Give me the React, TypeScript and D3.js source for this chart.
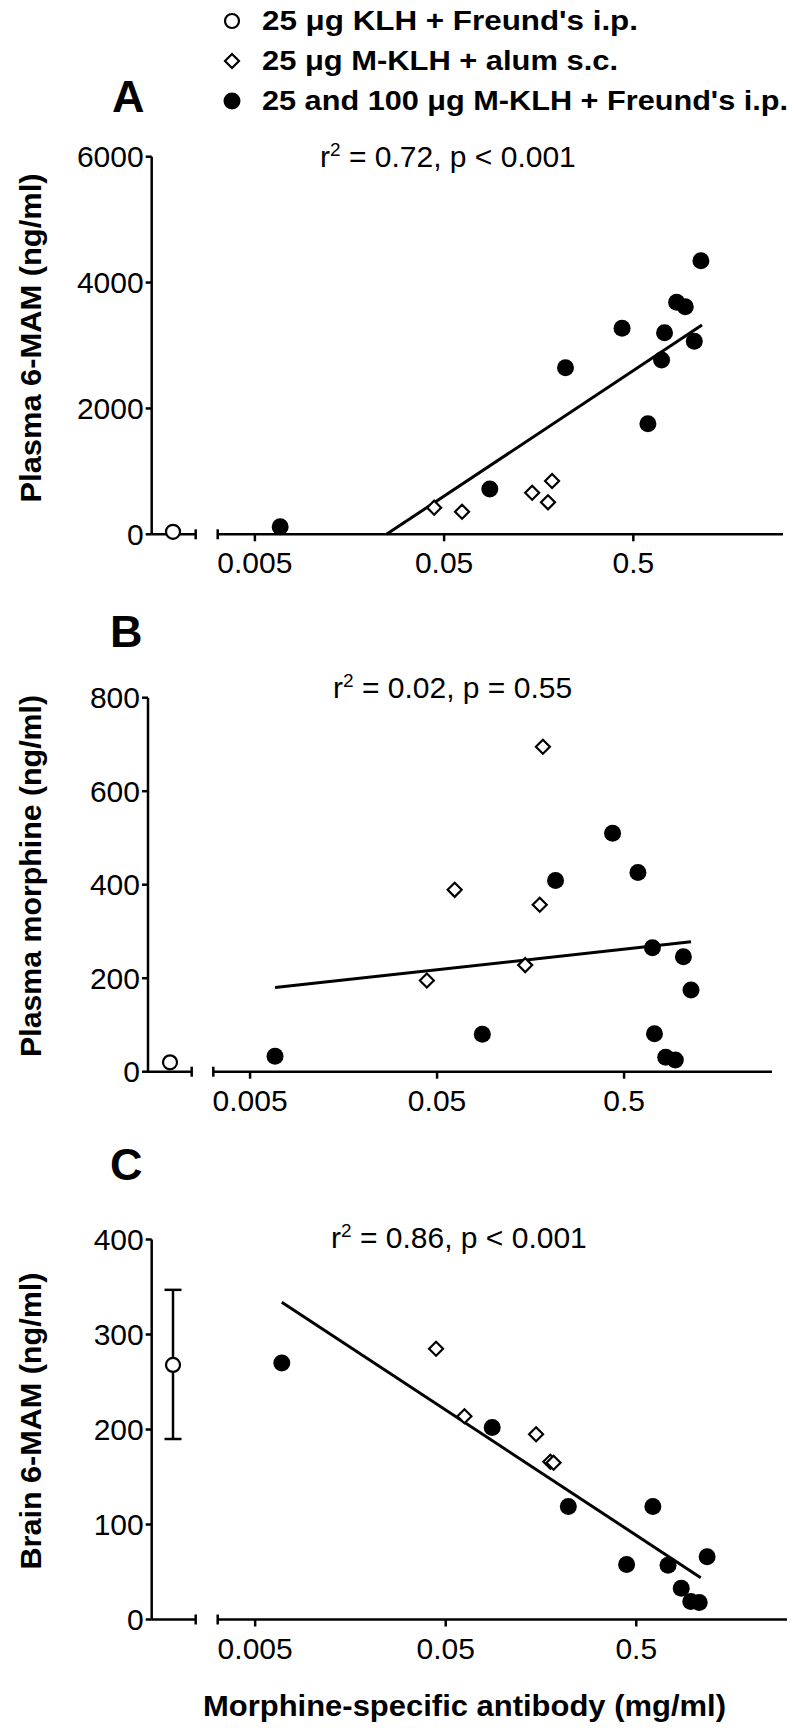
import React from "react";
import * as d3 from "d3";

// ---------- DATA ----------
const xTickValues = [0.005, 0.05, 0.5];
const xTickLabels = ["0.005", "0.05", "0.5"];
const xDomain = [0.00318, 3.09];

const legendLabels = [
  "25 \u03bcg KLH + Freund's i.p.",
  "25 \u03bcg M-KLH + alum s.c.",
  "25 and 100 \u03bcg M-KLH + Freund's i.p.",
];

// Panel A: Plasma 6-MAM
const aYTicks = [0, 2000, 4000, 6000];
const aControl = [40];
const aFilledX = [0.0068, 0.0872, 0.219, 0.436, 0.597, 0.705, 0.731, 0.847, 0.941, 1.05, 1.138];
const aFilledY = [121, 720, 2647, 3273, 1757, 2770, 3204, 3686, 3617, 3067, 4348];
const aDiamondX = [0.0443, 0.0622, 0.146, 0.177, 0.186];
const aDiamondY = [423, 359, 661, 508, 847];
const aFitX = [0.0248, 1.153];
const aFitY = [0, 3326];

// Panel B: Plasma morphine
const bYTicks = [0, 200, 400, 600, 800];
const bControl = [20];
const bFilledX = [0.0068, 0.0873, 0.215, 0.434, 0.593, 0.709, 0.727, 0.835, 0.94, 1.038, 1.14];
const bFilledY = [33, 80, 409, 510, 426, 265, 81, 31, 25, 246, 175];
const bDiamondX = [0.0441, 0.0621, 0.148, 0.177, 0.184];
const bDiamondY = [195, 389, 228, 357, 695];
const bFitX = [0.0068, 1.14];
const bFitY = [180, 278];

// Panel C: Brain 6-MAM
const cYTicks = [0, 100, 200, 300, 400];
const cControl = [268];
const cControlErr = [190, 347];
const cFilledX = [0.0069, 0.0877, 0.22, 0.445, 0.611, 0.734, 0.861, 0.966, 1.07, 1.177];
const cFilledY = [270, 202, 119, 58, 119, 57, 33, 19, 18, 66];
const cDiamondX = [0.0445, 0.0627, 0.149, 0.177, 0.184];
const cDiamondY = [285, 214, 195, 166, 165];
const cFitX = [0.0069, 1.09];
const cFitY = [334, 44];

const panels = [
  {
    letter: "A", yTitle: "Plasma 6-MAM (ng/ml)", stat: ["0.72, p < 0.001"],
    yTicks: aYTicks, yMax: 6000, control: aControl, err: null as number[] | null,
    fx: aFilledX, fy: aFilledY, dx: aDiamondX, dy: aDiamondY, fitX: aFitX, fitY: aFitY,
    geo: { axisX: 151.7, top: 156.7, bottom: 534.3, b1: 195.7, b2: 217.7, end: 783, ctrl: 173,
      letterX: 112, letterY: 112, statX: 320, statY: 167, titleLen: 329, titleY: 338 },
  },
  {
    letter: "B", yTitle: "Plasma morphine (ng/ml)", stat: ["0.02, p = 0.55"],
    yTicks: bYTicks, yMax: 800, control: bControl, err: null as number[] | null,
    fx: bFilledX, fy: bFilledY, dx: bDiamondX, dy: bDiamondY, fitX: bFitX, fitY: bFitY,
    geo: { axisX: 148, top: 697.7, bottom: 1071.7, b1: 191.7, b2: 213.3, end: 772, ctrl: 170,
      letterX: 110, letterY: 647, statX: 333, statY: 698, titleLen: 362, titleY: 876 },
  },
  {
    letter: "C", yTitle: "Brain 6-MAM (ng/ml)", stat: ["0.86, p < 0.001"],
    yTicks: cYTicks, yMax: 400, control: cControl, err: cControlErr,
    fx: cFilledX, fy: cFilledY, dx: cDiamondX, dy: cDiamondY, fitX: cFitX, fitY: cFitY,
    geo: { axisX: 151.7, top: 1239.5, bottom: 1619.5, b1: 195.7, b2: 217.7, end: 787, ctrl: 173,
      letterX: 110, letterY: 1180, statX: 331, statY: 1248, titleLen: 297, titleY: 1421 },
  },
];

const FONT = "'Liberation Sans', Arial, Helvetica, sans-serif";
const SW = 2.5;

function diamondPath(cx: number, cy: number, r: number) {
  return `M${cx},${cy - r}L${cx + r},${cy}L${cx},${cy + r}L${cx - r},${cy}Z`;
}

function Panel({ p }: { p: (typeof panels)[number] }) {
  const g = p.geo;
  const x = d3.scaleLog().domain(xDomain).range([g.b2, g.end]);
  const y = d3.scaleLinear().domain([0, p.yMax]).range([g.bottom, g.top]);
  const line = d3.line<[number, number]>().x((d) => x(d[0])).y((d) => y(d[1]));
  const fitPts: [number, number][] = p.fitX.map((v, i) => [v, p.fitY[i]]);
  return (
    <g>
      <text x={g.letterX} y={g.letterY} fontFamily={FONT} fontWeight="bold" fontSize={45}>{p.letter}</text>
      <text x={g.statX} y={g.statY} fontFamily={FONT} fontSize={30}>
        r<tspan dy={-11} fontSize={19}>2</tspan><tspan dy={11}>{" = " + p.stat[0]}</tspan>
      </text>
      {/* y axis */}
      <line x1={g.axisX} x2={g.axisX} y1={g.top} y2={g.bottom} stroke="#000" strokeWidth={SW} />
      {p.yTicks.map((t) => (
        <g key={t}>
          <line x1={g.axisX - 6} x2={g.axisX} y1={y(t)} y2={y(t)} stroke="#000" strokeWidth={SW} />
          <text x={g.axisX - 8} y={y(t) + 10.5} textAnchor="end" fontFamily={FONT} fontSize={30}>{t}</text>
        </g>
      ))}
      {/* x axis: control segment */}
      <line x1={g.axisX} x2={g.b1} y1={g.bottom} y2={g.bottom} stroke="#000" strokeWidth={SW} />
      <line x1={g.b1} x2={g.b1} y1={g.bottom - 5} y2={g.bottom + 5} stroke="#000" strokeWidth={SW} />
      {/* x axis: log segment */}
      <line x1={g.b2} x2={g.end} y1={g.bottom} y2={g.bottom} stroke="#000" strokeWidth={SW} />
      <line x1={g.b2} x2={g.b2} y1={g.bottom - 5} y2={g.bottom + 5} stroke="#000" strokeWidth={SW} />
      {xTickValues.map((t, i) => (
        <g key={t}>
          <line x1={x(t)} x2={x(t)} y1={g.bottom} y2={g.bottom + 7} stroke="#000" strokeWidth={SW} />
          <text x={x(t)} y={g.bottom + 39} textAnchor="middle" fontFamily={FONT} fontSize={30}>{xTickLabels[i]}</text>
        </g>
      ))}
      {/* y title */}
      <text transform={`translate(41,${g.titleY}) rotate(-90)`} textAnchor="middle" fontFamily={FONT}
        fontWeight="bold" fontSize={30} textLength={g.titleLen} lengthAdjust="spacingAndGlyphs">{p.yTitle}</text>
      {/* fit line */}
      <path d={line(fitPts) || ""} fill="none" stroke="#000" strokeWidth={3} />
      {/* control error bar */}
      {p.err && (
        <g>
          <line x1={g.ctrl} x2={g.ctrl} y1={y(p.err[0])} y2={y(p.err[1])} stroke="#000" strokeWidth={SW} />
          <line x1={g.ctrl - 8.5} x2={g.ctrl + 8.5} y1={y(p.err[0])} y2={y(p.err[0])} stroke="#000" strokeWidth={SW} />
          <line x1={g.ctrl - 8.5} x2={g.ctrl + 8.5} y1={y(p.err[1])} y2={y(p.err[1])} stroke="#000" strokeWidth={SW} />
        </g>
      )}
      {p.control.map((v, i) => (
        <circle key={"c" + i} cx={g.ctrl} cy={y(v)} r={7} fill="#fff" stroke="#000" strokeWidth={2.2} />
      ))}
      {p.dx.map((v, i) => (
        <path key={"d" + i} d={diamondPath(x(v), y(p.dy[i]), 7)} fill="#fff" stroke="#000" strokeWidth={2.2} />
      ))}
      {p.fx.map((v, i) => (
        <circle key={"f" + i} cx={x(v)} cy={y(p.fy[i])} r={8.5} fill="#000" />
      ))}
    </g>
  );
}

export default function App() {
  const legendY = [30, 70, 110];
  const legendLen = [376, 356, 526];
  return (
    <svg width={792} height={1729} style={{ position: "absolute", left: 0, top: 0, background: "#fff" }}>
      <rect width={792} height={1729} fill="#fff" />
      {/* legend */}
      <circle cx={232} cy={legendY[0] - 9} r={7} fill="#fff" stroke="#000" strokeWidth={2.2} />
      <path d={diamondPath(232, legendY[1] - 9, 7)} fill="#fff" stroke="#000" strokeWidth={2.2} />
      <circle cx={232} cy={legendY[2] - 9} r={8.5} fill="#000" />
      {legendLabels.map((l, i) => (
        <text key={l} x={262} y={legendY[i]} fontFamily={FONT} fontWeight="bold" fontSize={28}
          textLength={legendLen[i]} lengthAdjust="spacingAndGlyphs">{l}</text>
      ))}
      {panels.map((p) => <Panel key={p.letter} p={p} />)}
      <text x={203} y={1716} fontFamily={FONT} fontWeight="bold" fontSize={29} textLength={523}
        lengthAdjust="spacingAndGlyphs">Morphine-specific antibody (mg/ml)</text>
    </svg>
  );
}
